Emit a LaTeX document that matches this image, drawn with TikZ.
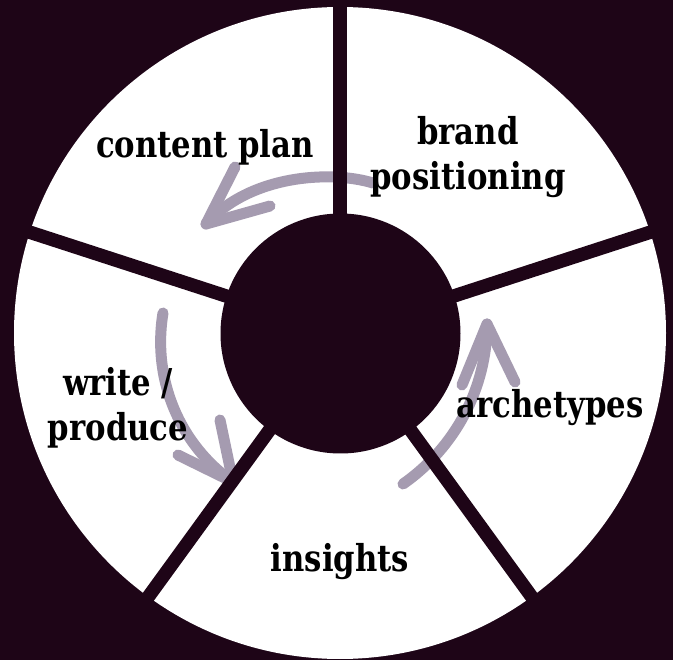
\documentclass[tikz,border=0pt]{standalone}
\usepackage{fontspec}
\newfontfamily\labfont{DejaVu Serif}[FakeStretch=0.83]
\definecolor{bgc}{RGB}{30,5,23}
\definecolor{arrowc}{RGB}{165,155,176}
\begin{document}
\begin{tikzpicture}[x=1pt,y=-1pt,
  lab/.style={font=\labfont\bfseries\fontsize{37}{45}\selectfont, text=black, align=center, inner sep=0pt},
  sepline/.style={draw=bgc, line width=13.5pt},
  cyc/.style={draw=arrowc, line width=11pt, line cap=round, line join=round}]
\fill[bgc] (0,0) rectangle (673,660);
\useasboundingbox (0,0) rectangle (673,660);
\coordinate (C) at (340,333);
\coordinate (Ci) at (340.5,333.5);
\fill[white] (C) circle[radius=326pt];
% arrows
\coordinate (a1s) at (373,183);
\coordinate (a1t) at (206,224);
\coordinate (a1b) at (235,167);
\coordinate (a1c) at (270,206);
\coordinate (a2s) at (163,313);
\coordinate (a2t) at (233,482);
\coordinate (a2b) at (220,420);
\coordinate (a2c) at (178,455);
\coordinate (a3s) at (403,484);
\coordinate (a3t) at (487,324);
\coordinate (a3b) at (462,385);
\coordinate (a3c) at (515,382);
\draw[cyc] (a1s) .. controls (330,170) and (250,175) .. (a1t);
\draw[cyc] (a1b) -- (a1t) -- (a1c);
\draw[cyc] (a2s) .. controls (152,380) and (180,445) .. (a2t);
\draw[cyc] (a2b) -- (a2t) -- (a2c);
\draw[cyc] (a3s) .. controls (456,447) and (487,387) .. (a3t);
\draw[cyc] (a3b) -- (a3t) -- (a3c);
% separators
\foreach \a in {90,162,234,306,18} \draw[sepline] (C) -- ++(\a:345pt);
\fill[bgc] (Ci) circle[radius=120pt];
% labels
\node[lab, anchor=base] (cp) at (205,158) {content plan};
\node[lab] (bp) at (468,157) {brand\\positioning};
\node[lab, anchor=base] (ar) at (550,418) {archetypes};
\node[lab, anchor=base] (in) at (340,572) {insights};
\node[lab] (wp) at (118,408) {write /\\produce};
\end{tikzpicture}
\end{document}
